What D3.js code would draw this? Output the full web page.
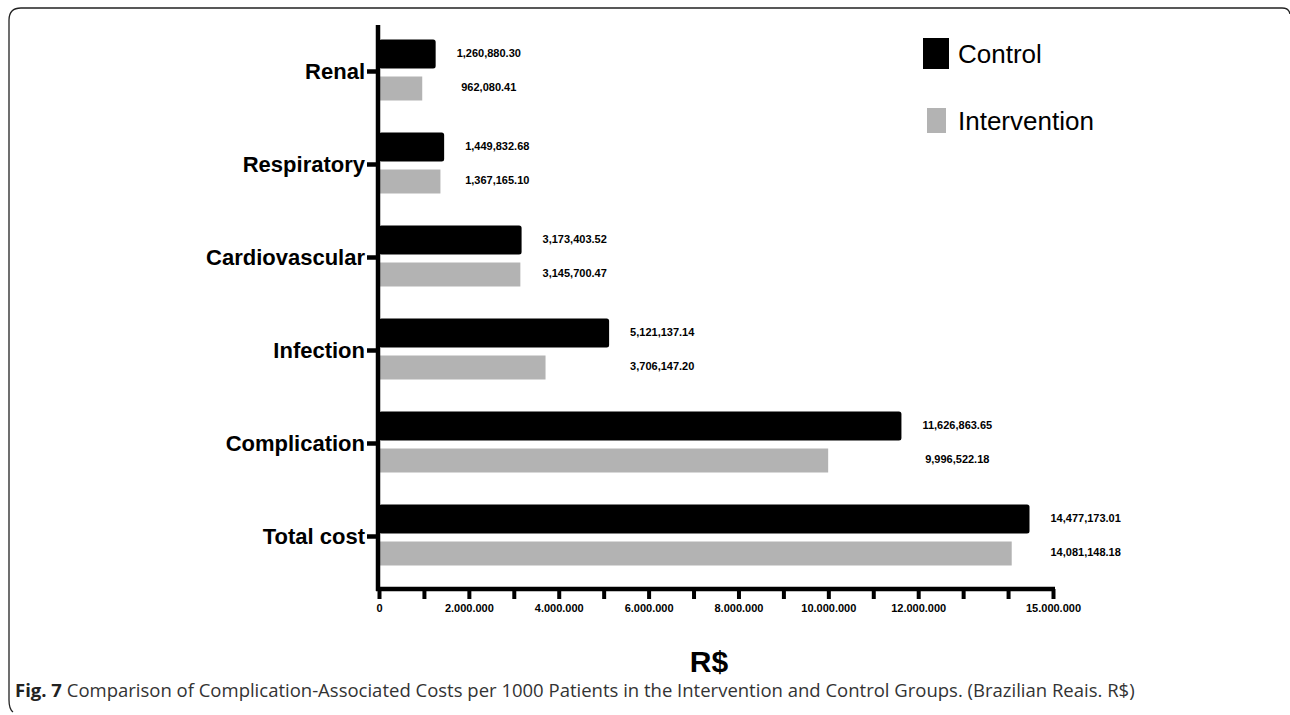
<!DOCTYPE html>
<html>
<head>
<meta charset="utf-8">
<script src="https://cdn.jsdelivr.net/npm/d3@7/dist/d3.min.js"></script>
<style>
  html, body { margin: 0; padding: 0; background: #fff; }
  svg { display: block; }
</style>
</head>
<body>
<svg id="chart" width="1290" height="715"></svg>
<script>
// ---- data ----
const categories = ["Renal", "Respiratory", "Cardiovascular", "Infection", "Complication", "Total cost"];
const controlValues = [1260880.30, 1449832.68, 3173403.52, 5121137.14, 11626863.65, 14477173.01];
const interventionValues = [962080.41, 1367165.10, 3145700.47, 3706147.20, 9996522.18, 14081148.18];
const seriesNames = ["Control", "Intervention"];
const xTickValues = d3.range(0, 15000001, 1000000);
const xTickLabels = {0: "0", 2000000: "2.000.000", 4000000: "4.000.000", 6000000: "6.000.000",
  8000000: "8.000.000", 10000000: "10.000.000", 12000000: "12.000.000", 15000000: "15.000.000"};
const axisTitle = "R$";
const captionBold = "Fig. 7";
const captionText = " Comparison of Complication-Associated Costs per 1000 Patients in the Intervention and Control Groups. (Brazilian Reais. R$)";

const colors = { Control: "#000000", Intervention: "#b3b3b3" };
const fmtLabel = d3.format(",.2f");

const svg = d3.select("#chart");

// frame
svg.append("path")
  .attr("d", "M1290,14 Q1289,8 1282,8 L21,8 Q9,8 9,20 L9,700 Q9,709 13,712")
  .attr("fill", "none").attr("stroke", "#222").attr("stroke-width", 1.3);

// scales
const x = d3.scaleLinear().domain([0, 15000000]).range([379, 1053]);
const y = d3.scaleBand().domain(categories).range([25, 583]);
const center = c => y(c) + y.bandwidth() / 2;

// bars
const rows = categories.map((c, i) => ({ cat: c, control: controlValues[i], intervention: interventionValues[i] }));

const g = svg.append("g");

g.selectAll("rect.ctrl").data(rows).join("rect")
  .attr("class", "ctrl")
  .attr("x", x(0))
  .attr("y", d => center(d.cat) - 32)
  .attr("width", d => x(d.control) - x(0))
  .attr("height", 29)
  .attr("rx", 2.5)
  .attr("fill", colors.Control);

g.selectAll("rect.intv").data(rows).join("rect")
  .attr("class", "intv")
  .attr("x", x(0))
  .attr("y", d => center(d.cat) + 5)
  .attr("width", d => x(d.intervention) - x(0))
  .attr("height", 24)
  .attr("fill", colors.Intervention);

// value labels
const labelFont = "bold 11px 'Liberation Sans', Arial, sans-serif";
rows.forEach(d => {
  const t1 = g.append("text")
    .attr("x", x(d.control) + 21)
    .attr("y", center(d.cat) - 17)
    .attr("dominant-baseline", "middle")
    .style("font", labelFont)
    .attr("fill", "#000")
    .text(fmtLabel(d.control));
  const w = t1.node().getComputedTextLength();
  g.append("text")
    .attr("x", x(d.control) + 21 + w / 2)
    .attr("y", center(d.cat) + 17)
    .attr("text-anchor", "middle")
    .attr("dominant-baseline", "middle")
    .style("font", labelFont)
    .attr("fill", "#000")
    .text(fmtLabel(d.intervention));
});

// y axis
const yAxis = d3.axisLeft(y).tickSize(11).tickPadding(2);
const ya = svg.append("g").attr("transform", `translate(${x(0) - 1},0)`).call(yAxis);
ya.select(".domain").remove();
ya.selectAll(".tick line").attr("stroke", "#000").attr("stroke-width", 4.5);
ya.selectAll(".tick text")
  .style("font", "bold 22px 'Liberation Sans', Arial, sans-serif")
  .attr("fill", "#000");
svg.append("line")
  .attr("x1", x(0) - 1).attr("x2", x(0) - 1)
  .attr("y1", 25).attr("y2", 591)
  .attr("stroke", "#000").attr("stroke-width", 4.5);

// x axis
const xAxis = d3.axisBottom(x).tickValues(xTickValues)
  .tickFormat(v => xTickLabels[v] !== undefined ? xTickLabels[v] : "")
  .tickSize(10).tickPadding(5).tickSizeOuter(0);
const xa = svg.append("g").attr("transform", "translate(0,589)").call(xAxis);
xa.select(".domain").attr("stroke", "#000").attr("stroke-width", 4.5)
  .attr("d", `M${x(0) - 3},0H${x(15000000) + 2}`);
xa.selectAll(".tick line").attr("stroke", "#000").attr("stroke-width", 4);
xa.selectAll(".tick text")
  .style("font", "bold 11px 'Liberation Sans', Arial, sans-serif")
  .attr("fill", "#000");

// axis title
svg.append("text")
  .attr("x", 709).attr("y", 672)
  .attr("text-anchor", "middle")
  .style("font", "bold 30px 'Liberation Sans', Arial, sans-serif")
  .attr("fill", "#000")
  .text(axisTitle);

// legend
const legend = svg.append("g");
legend.append("rect").attr("x", 923).attr("y", 38).attr("width", 26).attr("height", 31).attr("fill", colors.Control);
legend.append("text").attr("x", 958).attr("y", 56).attr("dominant-baseline", "middle")
  .style("font", "26px 'Liberation Sans', Arial, sans-serif").attr("fill", "#000").text(seriesNames[0]);
legend.append("rect").attr("x", 927).attr("y", 108).attr("width", 19).attr("height", 25).attr("fill", colors.Intervention);
legend.append("text").attr("x", 958).attr("y", 123).attr("dominant-baseline", "middle")
  .style("font", "26px 'Liberation Sans', Arial, sans-serif").attr("fill", "#000").text(seriesNames[1]);

// caption
const cap = svg.append("text").attr("x", 15).attr("y", 697)
  .style("font", "18.5px 'Open Sans', sans-serif").attr("fill", "#333");
cap.append("tspan").style("font-weight", "bold").attr("fill", "#222").text(captionBold);
cap.append("tspan").text(captionText);
</script>
</body>
</html>
